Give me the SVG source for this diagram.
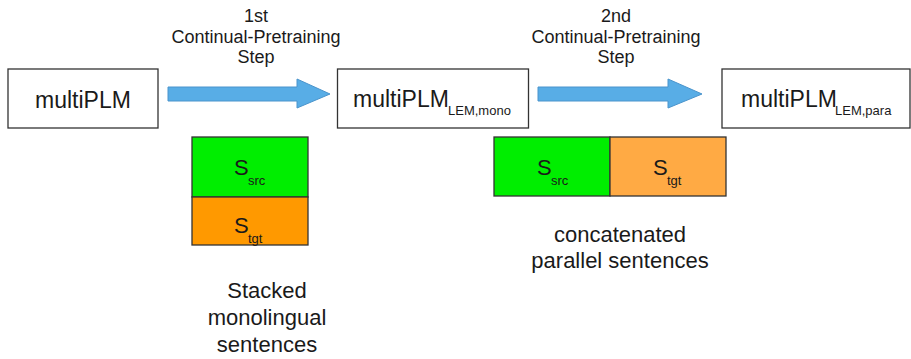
<svg xmlns="http://www.w3.org/2000/svg" width="911" height="359" viewBox="0 0 911 359">
  <style>
    text { font-family: "Liberation Sans", Arial, sans-serif; fill: #1a1a1a; }
    .model { fill: #ffffff; stroke: #333333; stroke-width: 1.3; }
    .main { font-size: 23px; }
    .sub { font-size: 13px; }
    .step { font-size: 18px; text-anchor: middle; }
    .cap { font-size: 22px; text-anchor: middle; }
    .seg { stroke: #333333; stroke-width: 1.3; }
    .s { font-size: 22px; }
    .arrow { fill: #58ade6; stroke: #4a94cc; stroke-width: 1; }
  </style>

  <!-- model nodes -->
  <g id="node-multiplm">
    <rect class="model" x="8" y="69" width="150" height="59"/>
    <text class="main" x="83" y="108" text-anchor="middle">multiPLM</text>
  </g>
  <g id="node-multiplm-lem-mono">
    <rect class="model" x="337.5" y="69" width="191" height="59"/>
    <text class="main" x="353" y="107">multiPLM</text>
    <text class="sub" x="448" y="115">LEM,mono</text>
  </g>
  <g id="node-multiplm-lem-para">
    <rect class="model" x="722" y="69" width="188" height="59"/>
    <text class="main" x="741" y="107">multiPLM</text>
    <text class="sub" x="835" y="115">LEM,para</text>
  </g>

  <!-- training step connectors -->
  <g id="connectors">
    <polygon class="arrow" points="168,87 297,87 297,79 330,94 297,108 297,101 168,101"/>
    <polygon class="arrow" points="538,87 668,87 668,79 702,94 668,108 668,101 538,101"/>
    <text class="step" x="256" y="22">1st</text>
    <text class="step" x="256" y="43">Continual-Pretraining</text>
    <text class="step" x="256" y="63">Step</text>
    <text class="step" x="616" y="22">2nd</text>
    <text class="step" x="616" y="43">Continual-Pretraining</text>
    <text class="step" x="616" y="63">Step</text>
  </g>

  <!-- stacked monolingual sentences -->
  <g id="data-stacked">
    <rect class="seg" x="192" y="137" width="116" height="60" fill="#00ee00"/>
    <rect class="seg" x="192" y="197" width="116" height="48" fill="#ff9900"/>
    <text class="s" x="234" y="175">S</text>
    <text class="sub" x="248" y="185">src</text>
    <text class="s" x="234" y="233">S</text>
    <text class="sub" x="248" y="243">tgt</text>
    <text class="cap" x="267" y="298">Stacked</text>
    <text class="cap" x="267" y="325">monolingual</text>
    <text class="cap" x="267" y="352">sentences</text>
  </g>

  <!-- concatenated parallel sentences -->
  <g id="data-concatenated">
    <rect class="seg" x="494" y="137" width="116" height="59" fill="#00ee00"/>
    <rect class="seg" x="610" y="137" width="116" height="59" fill="#ffaa44"/>
    <text class="s" x="537" y="175">S</text>
    <text class="sub" x="551" y="185">src</text>
    <text class="s" x="653" y="175">S</text>
    <text class="sub" x="667" y="185">tgt</text>
    <text class="cap" x="620" y="242">concatenated</text>
    <text class="cap" x="620" y="268">parallel sentences</text>
  </g>
</svg>
